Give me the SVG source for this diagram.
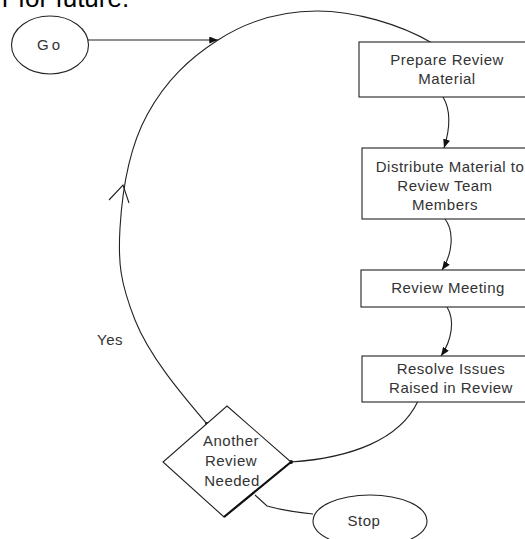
<svg xmlns="http://www.w3.org/2000/svg" width="525" height="539" viewBox="0 0 525 539">
<style>
.ln{fill:none;stroke:#222;stroke-width:1.1}
.bx{fill:#fff;stroke:#222;stroke-width:1.1}
.t{font-family:"Liberation Sans",Arial,sans-serif;font-size:15px;fill:#333;text-anchor:middle;letter-spacing:0.5px}
</style>
<defs>
<marker id="ah" viewBox="0 0 10 8" refX="10" refY="4" markerWidth="9" markerHeight="7" markerUnits="userSpaceOnUse" orient="auto">
<path d="M0,0 L10,4 L0,8 Z" fill="#111"/>
</marker>
</defs>
<rect width="525" height="539" fill="#fff"/>
<text x="2" y="7" style="font-family:'Liberation Sans',Arial,sans-serif;font-size:26px;fill:#000">r for future.</text>

<g id="connectors">
<path class="ln" d="M88,40 L218,40" marker-end="url(#ah)"/>
<path class="ln" d="M207,424 C185,398 150,358 135,320 S118,262 120,228 S128,150 147,115 S190,58 218,40 S280,11 317,11 S400,24 432,43"/>
<path class="ln" d="M109,200 L123,185 L129,203"/>
<path class="ln" d="M443,97 C452,112 449,132 444,148" marker-end="url(#ah)"/>
<path class="ln" d="M445,219 C455,232 452,255 442,270" marker-end="url(#ah)"/>
<path class="ln" d="M447,307 C455,320 452,340 441,356" marker-end="url(#ah)"/>
<path class="ln" d="M418,401 C400,440 350,458 291,462"/>
<path class="ln" d="M255,495 L267,506 Q285,511 313,514"/>
<circle cx="207" cy="424" r="2" fill="#111"/>
<circle cx="291" cy="462" r="2" fill="#111"/>
</g>

<g id="go">
<ellipse class="bx" cx="50" cy="45" rx="38.5" ry="29"/>
<text class="t" x="50" y="50" style="letter-spacing:3px">Go</text>
</g>

<g id="prepare">
<rect class="bx" x="359" y="42" width="176" height="55"/>
<text class="t" x="447" y="65">Prepare Review</text>
<text class="t" x="447" y="84">Material</text>
</g>

<g id="distribute">
<rect class="bx" x="362" y="148" width="174" height="71"/>
<text class="t" x="450" y="172">Distribute Material to</text>
<text class="t" x="445" y="191">Review Team</text>
<text class="t" x="445" y="210">Members</text>
</g>

<g id="meeting">
<rect class="bx" x="361" y="270" width="175" height="37"/>
<text class="t" x="448" y="293">Review Meeting</text>
</g>

<g id="resolve">
<rect class="bx" x="362" y="356" width="174" height="46"/>
<text class="t" x="451" y="374">Resolve Issues</text>
<text class="t" x="451" y="393">Raised in Review</text>
</g>

<g id="decision">
<polygon class="bx" points="227,406 291,462 224,517 163,462"/>
<line x1="291" y1="462" x2="224" y2="517" stroke="#111" stroke-width="2.2"/>
<text class="t" x="231" y="446">Another</text>
<text class="t" x="231" y="466">Review</text>
<text class="t" x="232" y="486">Needed</text>
</g>

<g id="stop">
<ellipse class="bx" cx="370" cy="521" rx="57" ry="26"/>
<text class="t" x="364" y="526">Stop</text>
</g>

<text class="t" x="110" y="345">Yes</text>
</svg>
